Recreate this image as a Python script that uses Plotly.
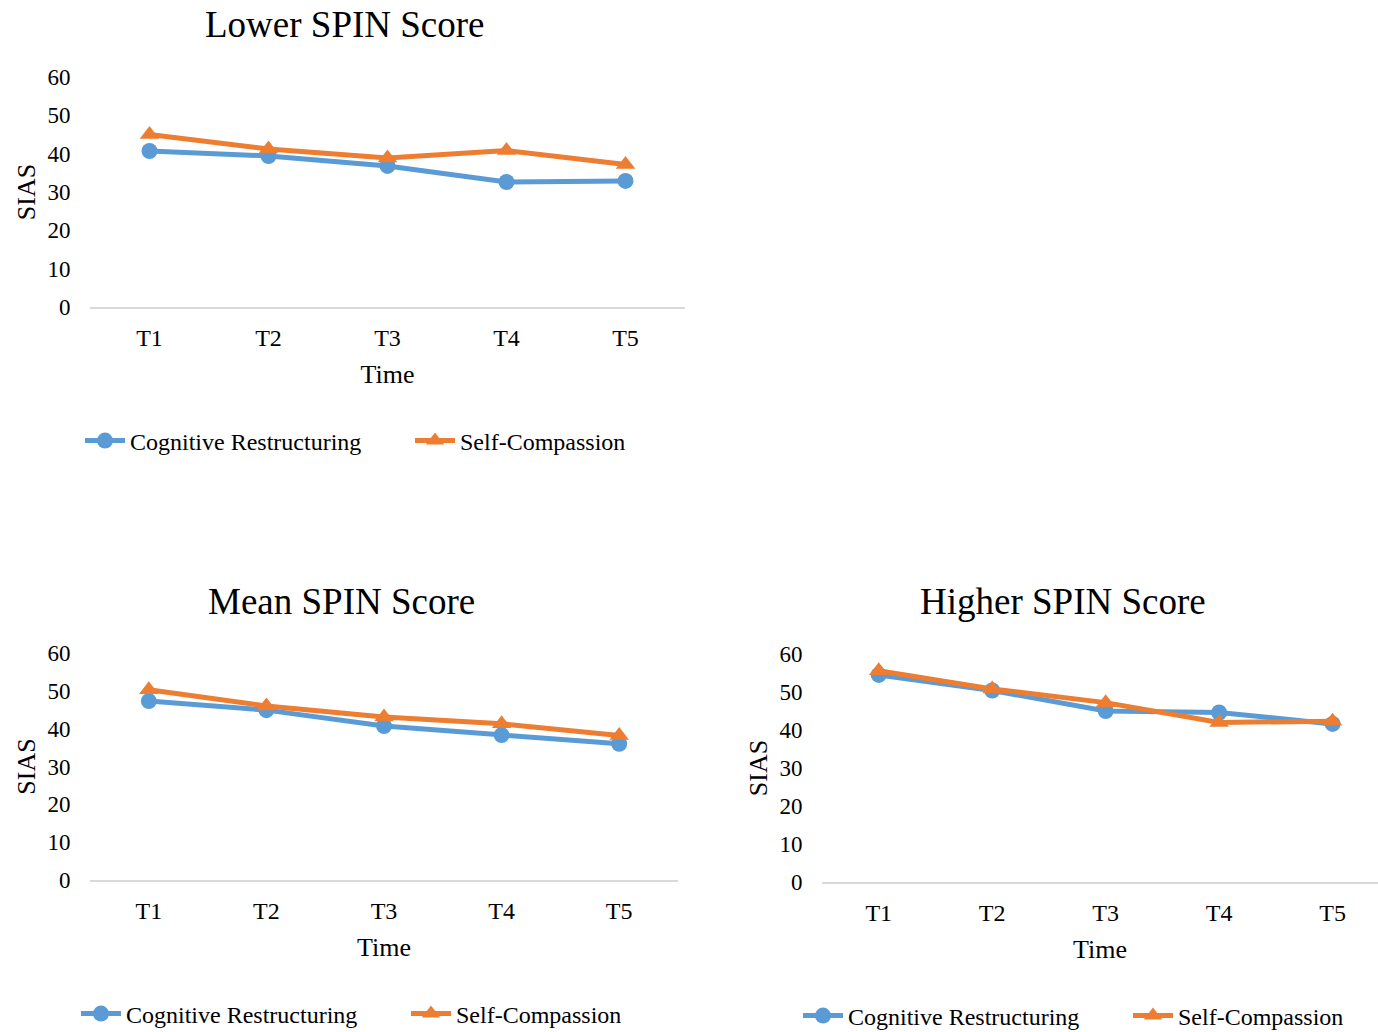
import plotly.graph_objects as go

times = ["T1", "T2", "T3", "T4", "T5"]

lower_cr = [40.7, 39.4, 36.8, 32.6, 32.9]
lower_sc = [45.0, 41.2, 38.9, 40.8, 37.2]

mean_cr = [47.3, 44.9, 40.7, 38.3, 36.0]
mean_sc = [50.3, 46.0, 43.1, 41.3, 38.2]

higher_cr = [54.5, 50.4, 45.0, 44.6, 41.6]
higher_sc = [55.6, 50.8, 47.2, 42.0, 42.3]

panel_titles = ["Lower SPIN Score", "Mean SPIN Score", "Higher SPIN Score"]
series_names = ["Cognitive Restructuring", "Self-Compassion"]
y_ticks = [0, 10, 20, 30, 40, 50, 60]

BLUE = "#5B9BD5"
ORANGE = "#ED7D31"
FONT = "Liberation Serif, Times New Roman, serif"

W, H = 1378, 1032

def px_x(v):
    return v / W

def px_y(v):
    return 1 - v / H

fig = go.Figure()

panels = [
    (lower_cr, lower_sc, "x", "y", "legend"),
    (mean_cr, mean_sc, "x2", "y2", "legend2"),
    (higher_cr, higher_sc, "x3", "y3", "legend3"),
]

for cr, sc, xa, ya, lg in panels:
    fig.add_trace(go.Scatter(
        x=times, y=cr, name=series_names[0], mode="lines+markers",
        xaxis=xa, yaxis=ya, legend=lg,
        line=dict(color=BLUE, width=5),
        marker=dict(symbol="circle", size=16, color=BLUE),
    ))
    fig.add_trace(go.Scatter(
        x=times, y=sc, name=series_names[1], mode="lines+markers",
        xaxis=xa, yaxis=ya, legend=lg,
        line=dict(color=ORANGE, width=5),
        marker=dict(symbol="triangle-up", size=17, color=ORANGE),
    ))

# pixel geometry of each plot area: (left, right, y0 pixel, y60 pixel, xrange_max)
geom = [
    (90, 685, 307, 77, 4.5),
    (90, 678, 880, 653, 4.5),
    (822, 1378, 882, 654, 4.4),
]

for i, (l, r, y0, y60, xmax) in enumerate(geom):
    sfx = "" if i == 0 else str(i + 1)
    fig.layout["xaxis" + sfx] = dict(
        domain=[px_x(l), px_x(r)],
        anchor="y" + sfx,
        type="category",
        range=[-0.5, xmax],
        showgrid=False, zeroline=False,
        showline=True, linecolor="#D9D9D9", linewidth=2,
        ticks="outside", ticklen=8, tickcolor="rgba(0,0,0,0)",
        tickfont=dict(family=FONT, size=24, color="#000"),
        title=dict(text="Time", font=dict(family=FONT, size=26, color="#000"), standoff=15),
    )
    fig.layout["yaxis" + sfx] = dict(
        domain=[px_y(y0), px_y(y60)],
        anchor="x" + sfx,
        range=[0, 60],
        tickvals=y_ticks,
        showgrid=False, zeroline=False, showline=False,
        ticks="outside", ticklen=14, tickcolor="rgba(0,0,0,0)",
        tickfont=dict(family=FONT, size=23, color="#000"),
        title=dict(text="SIAS", font=dict(family=FONT, size=26, color="#000"), standoff=4),
    )

# panel titles
title_pos = [(345, 24), (341, 601), (1063, 601)]
for t, (cx, cy) in zip(panel_titles, title_pos):
    fig.add_annotation(
        text=t, x=px_x(cx), y=px_y(cy), xref="paper", yref="paper",
        xanchor="center", yanchor="middle", showarrow=False,
        font=dict(family=FONT, size=37, color="#000"),
    )

legend_common = dict(
    orientation="h", xanchor="left", yanchor="middle",
    xref="container", yref="container",
    font=dict(family=FONT, size=24, color="#000"),
    bgcolor="rgba(0,0,0,0)", itemwidth=40, tracegroupgap=0,
    entrywidth=275, entrywidthmode="pixels",
)
fig.update_layout(
    legend=dict(x=px_x(80), y=px_y(441), **legend_common),
    legend2=dict(x=px_x(76), y=px_y(1014), **legend_common),
    legend3=dict(x=px_x(798), y=px_y(1016), **legend_common),
)

fig.update_layout(
    width=W, height=H,
    margin=dict(l=0, r=0, t=0, b=0, autoexpand=False),
    paper_bgcolor="white", plot_bgcolor="white",
    showlegend=True,
)

fig.write_html("out.html")
